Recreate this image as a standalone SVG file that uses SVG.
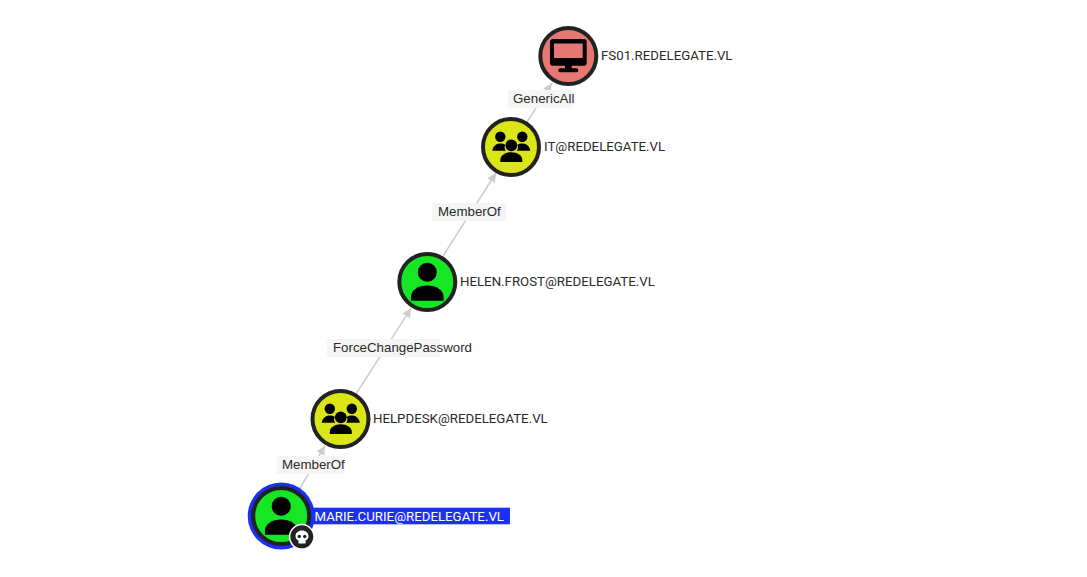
<svg xmlns="http://www.w3.org/2000/svg" width="1087" height="577" viewBox="0 0 1087 577">
<style>
.n{stroke:#222;stroke-width:4}
.nl{font:13.25px Roboto,sans-serif;fill:#2a2a2a}
.el{font:13.3px "Liberation Sans",Arial,sans-serif;fill:#2a2a2a}
.lb{fill:#f5f5f5}
.e{stroke:#ccc;stroke-width:1.5;fill:none;marker-end:url(#a)}
.i{fill:#000}
</style>
<defs>
<marker id="a" markerUnits="userSpaceOnUse" markerWidth="10" markerHeight="10" refX="9" refY="4.500" orient="auto"><path d="M0 0L9 4.500L0 9Z" fill="#ccc"/></marker>
<g id="user"><circle cx="0" cy="-9.700" r="9.500"/><path d="M-16.300 18.700V15C-16.300 8-9 3.500 0 3.500S16.300 8 16.300 15V18.700Z"/></g>
<g id="grp"><circle cx="-11" cy="-10.300" r="5.200"/><circle cx="11" cy="-10.300" r="5.200"/><path d="M-19 3.700C-18.500-.8-15-3.500-11-3.500C-9-3.500-7.500-3.200-6-2.200C-7-.5-7 2-5.500 3.700Z"/><path d="M19 3.700C18.500-.8 15-3.500 11-3.500C9-3.500 7.500-3.200 6-2.200C7-.5 7 2 5.500 3.700Z"/><circle cx="0" cy="-1.700" r="5.900"/><path d="M-11 15V13C-11 8.500-6 5.300 0 5.300S11 8.500 11 13V15Z"/></g>
</defs>
<g id="connectors">
<path class="e" d="M299 490L325 445.700"/>
<path class="e" d="M356 394L411 308.300"/>
<path class="e" d="M443 256L496 173"/>
<path class="e" d="M527 122L551.700 83.300"/>
</g>
<g id="edge-labels">
<g><rect class="lb" x="508" y="90" width="64" height="18"/><text class="el" x="513" y="103">GenericAll</text></g>
<g><rect class="lb" x="432" y="203" width="74" height="18"/><text class="el" x="438" y="216">MemberOf</text></g>
<g><rect class="lb" x="327" y="339" width="113" height="18"/><text class="el" x="333" y="352">ForceChangePassword</text></g>
<g><rect class="lb" x="277" y="456" width="68" height="18"/><text class="el" x="282" y="469">MemberOf</text></g>
</g>
<g id="fs01"><circle class="n" cx="568.300" cy="56" r="28" fill="#e57873"/>
<path class="i" fill-rule="evenodd" d="M553 39H584Q586.700 39 586.700 41.500V63Q586.700 65.700 584 65.700H552.700Q550 65.700 550 63V41.500Q550 39 553 39ZM554 43.500V58H582.700V43.500Z"/><rect class="i" x="565" y="65" width="6.700" height="4"/><rect class="i" x="558.300" y="68.300" width="20" height="4" rx="2"/>
<text class="nl" x="601" y="60">FS01.REDELEGATE.VL</text></g>
<g id="it"><circle class="n" cx="511" cy="147" r="28" fill="#dbe617"/><use href="#grp" x="511.300" y="147"/><text class="nl" x="544" y="151">IT@REDELEGATE.VL</text></g>
<g id="helen"><circle class="n" cx="427.300" cy="282" r="28" fill="#17e625"/><use href="#user" x="427.300" y="282"/><text class="nl" x="460" y="286">HELEN.FROST@REDELEGATE.VL</text></g>
<g id="helpdesk"><circle class="n" cx="340.500" cy="419" r="28" fill="#dbe617"/><use href="#grp" x="340.800" y="419"/><text class="nl" x="373" y="423">HELPDESK@REDELEGATE.VL</text></g>
<g id="marie"><rect x="312" y="507.700" width="198" height="16.600" fill="#1c2ff5"/><circle cx="281.200" cy="516" r="33.500" fill="#1c2ff5"/><circle class="n" cx="281.200" cy="516" r="28" fill="#17e625"/><use href="#user" x="281.200" y="516"/>
<circle cx="301.800" cy="536.800" r="12.200" fill="#222" stroke="#fff" stroke-width="1.500"/>
<path d="M302 530.500C298 530.500 295.500 533 295.500 536C295.500 538.500 297 540 298.500 540.500V543.500H305.500V540.500C307 540 308.500 538.500 308.500 536C308.500 533 306 530.500 302 530.500Z" fill="#fff"/><circle cx="299.300" cy="536.500" r="1.700" fill="#222"/><circle cx="304.700" cy="536.500" r="1.700" fill="#222"/>
<text class="nl" x="314.500" y="521" style="fill:#fff">MARIE.CURIE@REDELEGATE.VL</text></g>
</svg>
